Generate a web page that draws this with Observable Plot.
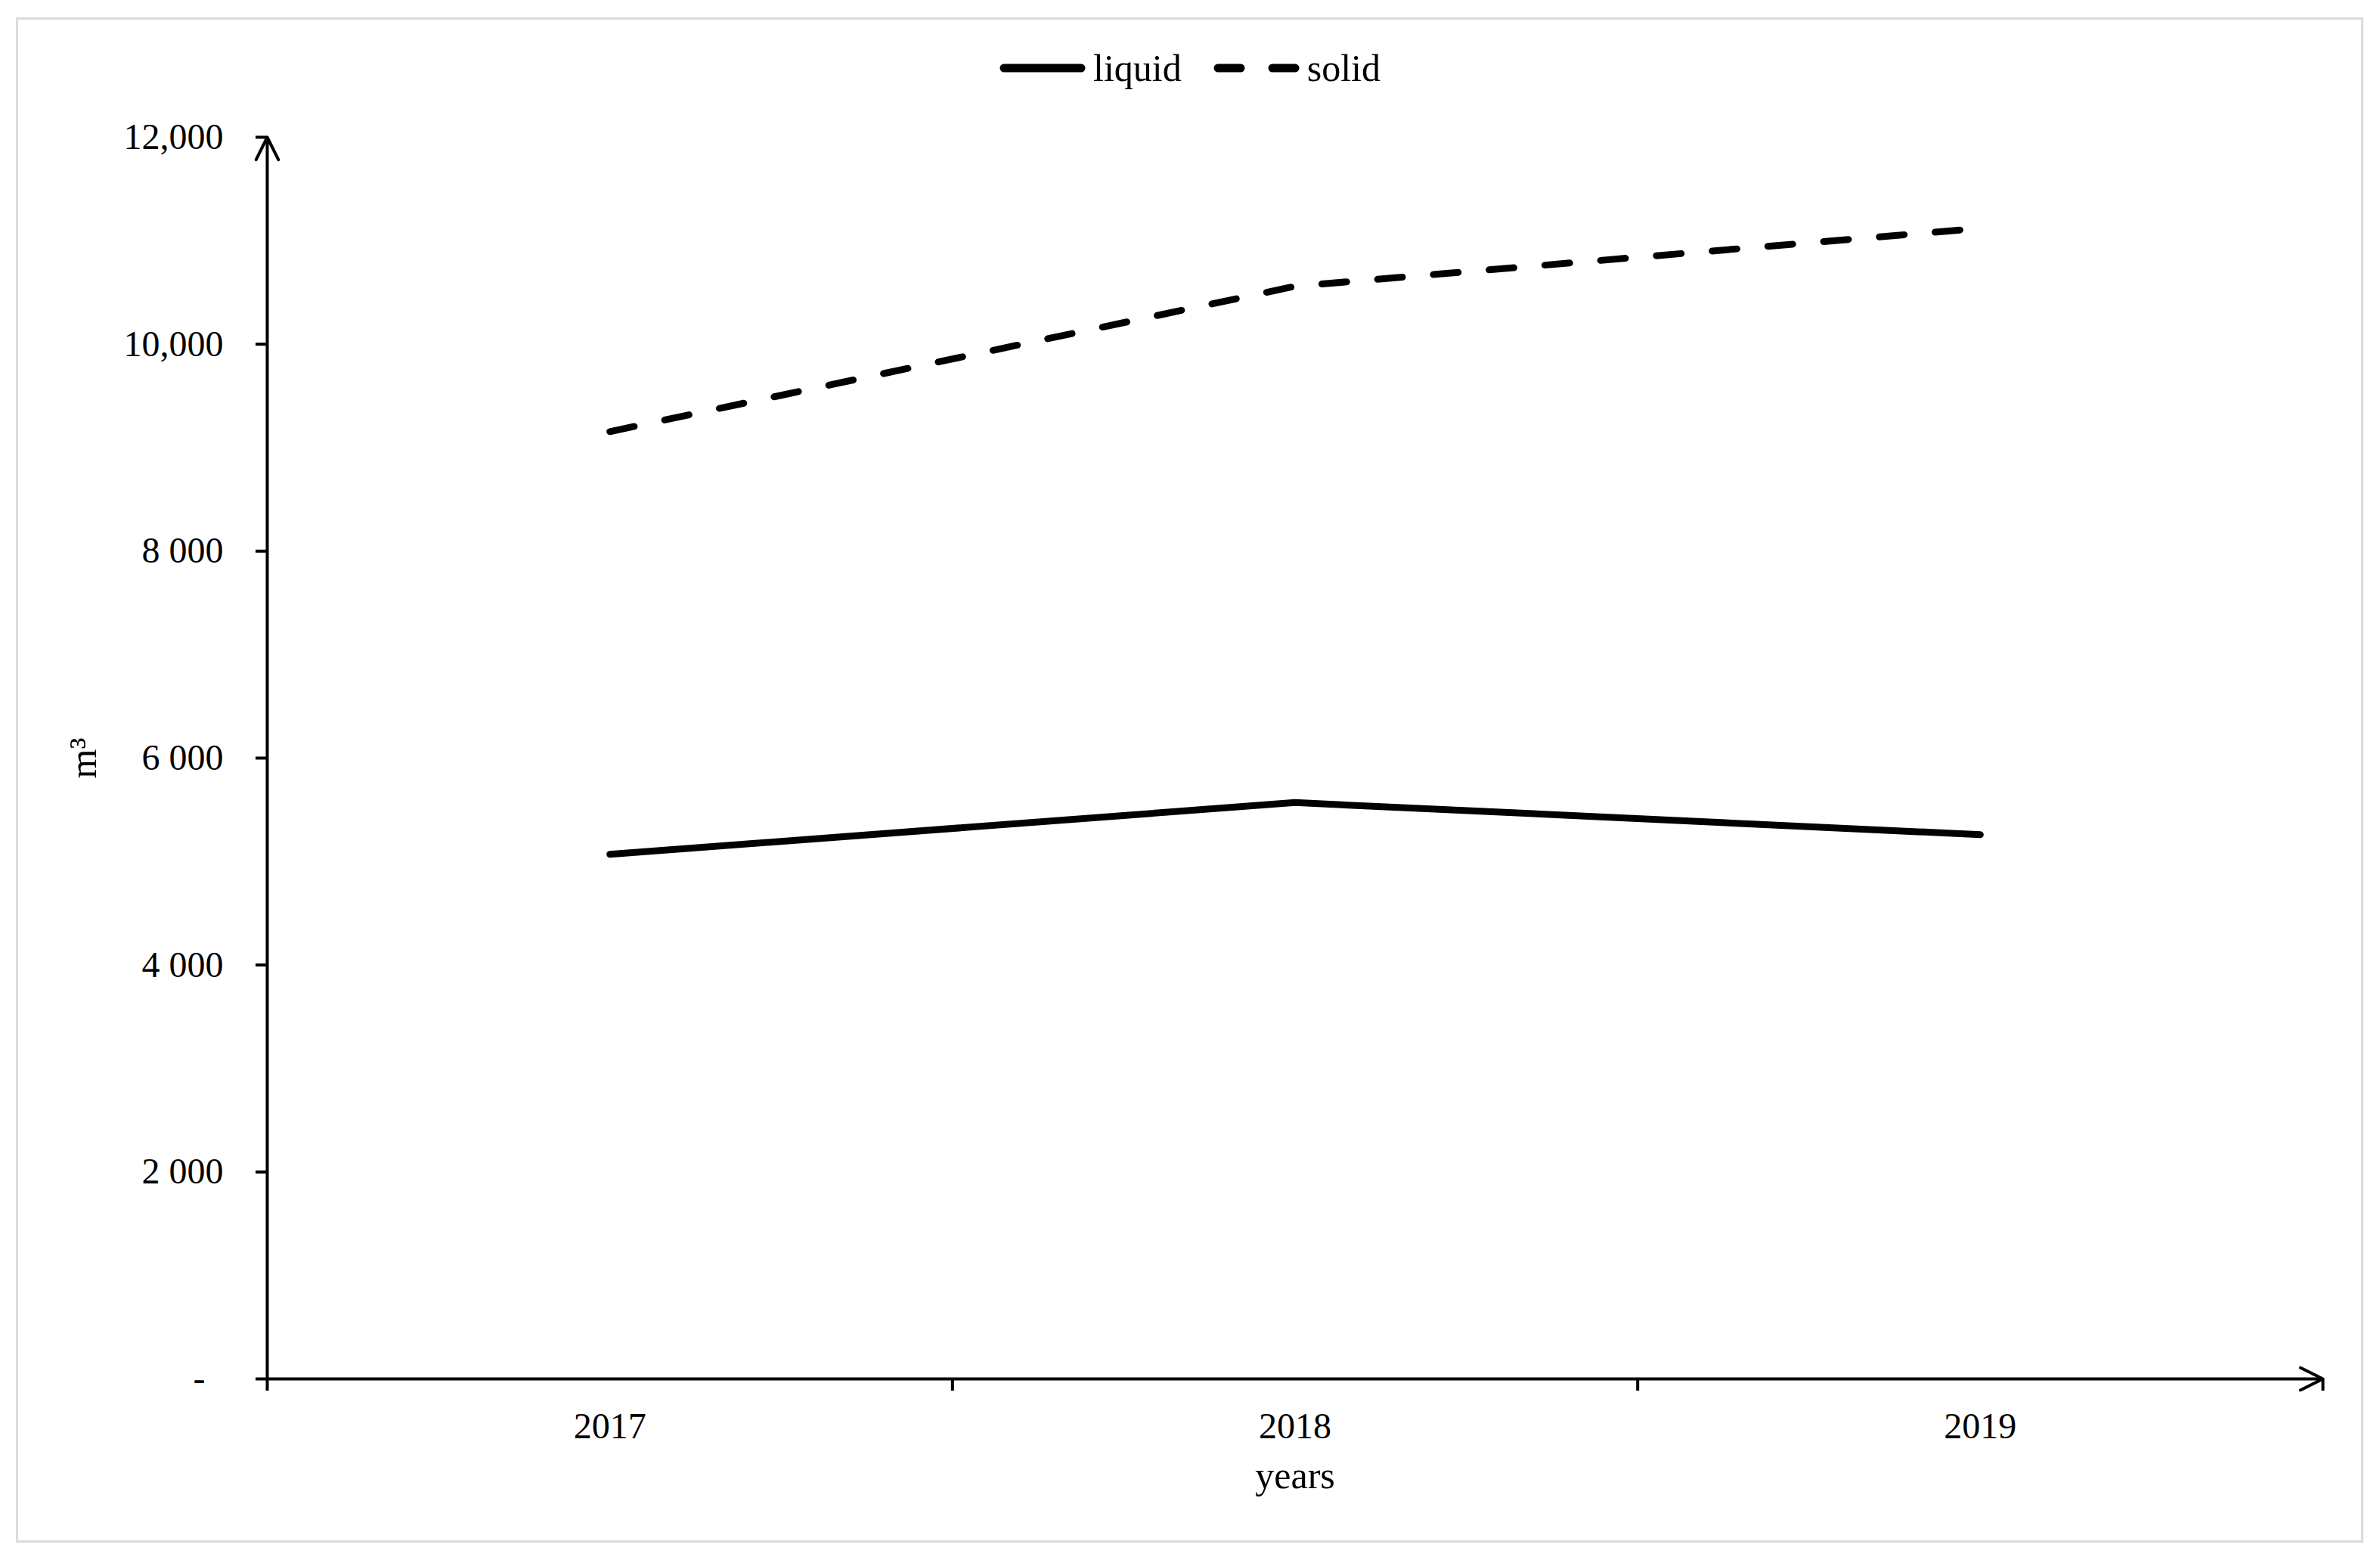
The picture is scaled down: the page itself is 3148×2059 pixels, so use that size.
<!DOCTYPE html>
<html>
<head>
<meta charset="utf-8">
<script src="https://cdn.jsdelivr.net/npm/d3@7"></script>
<script src="https://cdn.jsdelivr.net/npm/@observablehq/plot@0.6"></script>
<style>
  html, body { margin: 0; padding: 0; background: #fff; }
  body { width: 3148px; height: 2059px; position: relative; overflow: hidden; font-family: "Liberation Serif", "Times New Roman", serif; }
  #frame { position: absolute; left: 21px; top: 23px; width: 3099px; height: 2011px; border: 3px solid #dcdcdc; }
  #legend { position: absolute; left: 0; top: 60px; width: 3148px; height: 60px; display: flex; justify-content: center; align-items: center; font-size: 50px; color: #000; }
  #legend .item { display: flex; align-items: center; }
  #legend .item + .item { margin-left: 42px; }
  #legend svg { display: block; margin-right: 10px; }
  #chart { position: absolute; left: 0; top: 130px; }
</style>
</head>
<body>
<div id="frame"></div>
<div id="legend"></div>
<div id="chart"></div>
<script>
// ---- data ----
const years = [2017, 2018, 2019];
const liquid = [5070, 5570, 5260];
const solid = [9155, 10560, 11120];
const seriesNames = ["liquid", "solid"];
const yTicks = [0, 2000, 4000, 6000, 8000, 10000, 12000];
const yTickLabels = ["-", "2 000", "4 000", "6 000", "8 000", "10,000", "12,000"];
const xLabel = "years";
const yLabel = "m³";

// ---- derived tables ----
const rowsLiquid = years.map((yr, i) => ({year: yr, value: liquid[i]}));
const rowsSolid = years.map((yr, i) => ({year: yr, value: solid[i]}));
const xDomain = [years[0] - 0.5, years[years.length - 1] + 0.5];
const yDomain = [yTicks[0], yTicks[yTicks.length - 1]];
const xBounds = d3.range(xDomain[0], xDomain[1] + 0.001, 1);
const yLabelMap = new Map(yTicks.map((t, i) => [t, i === 0 ? yTickLabels[i] + "\u00a0\u00a0" : yTickLabels[i]]));

const dash = "33,41";
const lineW = 9;

// ---- legend ----
const legend = document.getElementById("legend");
seriesNames.forEach((name, k) => {
  const item = document.createElement("div");
  item.className = "item";
  const sw = d3.create("svg").attr("width", 114).attr("height", 20);
  sw.append("line").attr("x1", 6).attr("x2", 108).attr("y1", 10).attr("y2", 10)
    .attr("stroke", "#000").attr("stroke-width", 11).attr("stroke-linecap", "round")
    .attr("stroke-dasharray", k === 1 ? "30,42" : null);
  item.appendChild(sw.node());
  const t = document.createElement("span");
  t.textContent = name;
  item.appendChild(t);
  legend.appendChild(item);
});

// ---- chart ----
const chart = Plot.plot({
  width: 3148,
  height: 1870,
  marginTop: 51,
  marginBottom: 177,
  marginLeft: 353,
  marginRight: 76,
  style: {fontFamily: "Liberation Serif, Times New Roman, serif", color: "#000", background: "transparent", overflow: "visible"},
  x: {domain: xDomain},
  y: {domain: yDomain},
  marks: [
    Plot.axisY({ticks: yTicks, tickSize: 15, tickPadding: 43, strokeWidth: 4, fontSize: 48, tickFormat: d => yLabelMap.get(d), label: null}),
    Plot.axisX({ticks: years, tickSize: 0, tickPadding: 44, fontSize: 48, tickFormat: d => String(d), label: null}),
    Plot.axisX({ticks: xBounds, tickSize: 16, strokeWidth: 4, tickFormat: () => "", label: null}),
    Plot.arrow([0], {x1: () => xDomain[0], x2: () => xDomain[0], y1: () => yDomain[0], y2: () => yDomain[1], stroke: "#000", strokeWidth: 4, headLength: 12.4, headAngle: 53}),
    Plot.arrow([0], {x1: () => xDomain[0], x2: () => xDomain[1], y1: () => yDomain[0], y2: () => yDomain[0], stroke: "#000", strokeWidth: 4, headLength: 12.4, headAngle: 53}),
    Plot.line(rowsLiquid, {x: "year", y: "value", stroke: "#000", strokeWidth: lineW, strokeLinecap: "round", strokeLinejoin: "miter"}),
    Plot.line(rowsSolid, {x: "year", y: "value", stroke: "#000", strokeWidth: lineW, strokeLinecap: "round", strokeDasharray: dash}),
    Plot.text([xLabel], {frameAnchor: "bottom", dy: 128, fontSize: 50, lineAnchor: "middle", text: d => d}),
    Plot.text([yLabel], {frameAnchor: "left", dx: -243, rotate: -90, fontSize: 50, lineAnchor: "middle", textAnchor: "middle", text: d => d})
  ]
});
document.getElementById("chart").appendChild(chart);
</script>
</body>
</html>
